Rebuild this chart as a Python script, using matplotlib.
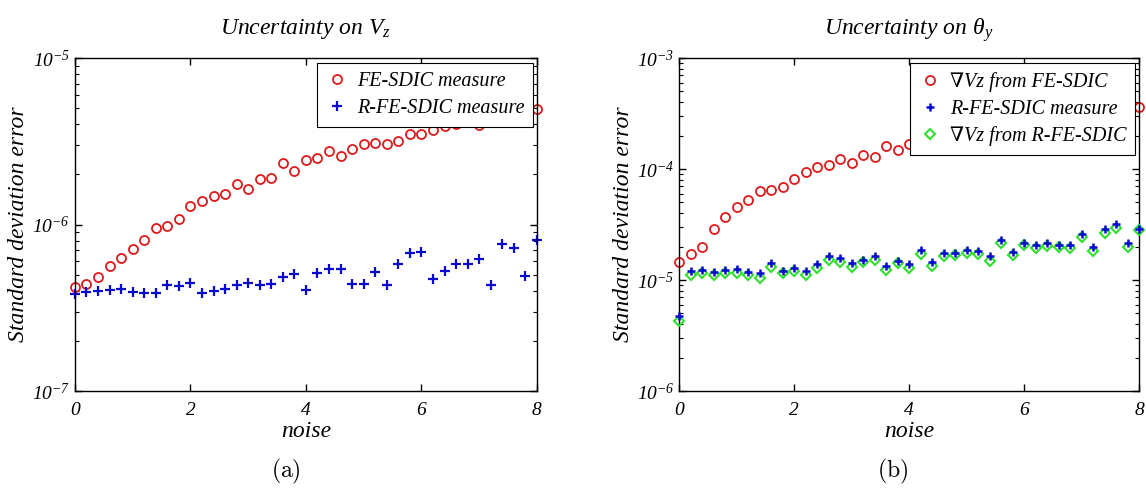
import numpy as np
import matplotlib
matplotlib.use("Agg")
from matplotlib import pyplot as plt
from matplotlib.ticker import LogLocator, NullFormatter, FixedLocator

plt.rcParams['font.family'] = ['Liberation Serif', 'DejaVu Serif']
plt.rcParams['font.style'] = 'italic'
plt.rcParams['mathtext.fontset'] = 'custom'
plt.rcParams['mathtext.rm'] = 'Liberation Serif:italic'
plt.rcParams['mathtext.it'] = 'Liberation Serif:italic'
plt.rcParams['mathtext.sf'] = 'Liberation Serif'  # upright slot, used for theta
plt.rcParams['mathtext.default'] = 'it'

noise = np.round(np.arange(0, 8.01, 0.2), 1)

# panel (a): uncertainty on Vz
vz_fe = [4.22e-7, 4.37e-7, 4.81e-7, 5.62e-7, 6.31e-7, 7.12e-7, 8.07e-7, 9.57e-7, 9.84e-7, 1.08e-6,
         1.30e-6, 1.38e-6, 1.49e-6, 1.53e-6, 1.75e-6, 1.64e-6, 1.87e-6, 1.89e-6, 2.33e-6, 2.10e-6,
         2.45e-6, 2.51e-6, 2.78e-6, 2.59e-6, 2.85e-6, 3.06e-6, 3.10e-6, 3.03e-6, 3.18e-6, 3.52e-6,
         3.49e-6, 3.67e-6, 3.90e-6, 3.99e-6, 4.12e-6, 3.97e-6, 4.25e-6, 4.40e-6, 4.12e-6, 4.60e-6,
         4.95e-6]
vz_rfe = [3.82e-7, 3.95e-7, 4.00e-7, 4.03e-7, 4.09e-7, 3.95e-7, 3.86e-7, 3.89e-7, 4.33e-7, 4.30e-7,
          4.47e-7, 3.86e-7, 4.00e-7, 4.12e-7, 4.33e-7, 4.47e-7, 4.33e-7, 4.42e-7, 4.85e-7, 5.04e-7,
          4.03e-7, 5.13e-7, 5.37e-7, 5.37e-7, 4.42e-7, 4.37e-7, 5.20e-7, 4.33e-7, 5.78e-7, 6.70e-7,
          6.87e-7, 4.70e-7, 5.27e-7, 5.78e-7, 5.78e-7, 6.25e-7, 4.33e-7, 7.60e-7, 7.22e-7, 4.90e-7,
          8.07e-7]

# panel (b): uncertainty on theta_y
th_fe = [1.46e-5, 1.71e-5, 1.98e-5, 2.88e-5, 3.72e-5, 4.52e-5, 5.23e-5, 6.34e-5, 6.52e-5, 6.89e-5,
         8.20e-5, 9.41e-5, 1.04e-4, 1.08e-4, 1.23e-4, 1.13e-4, 1.33e-4, 1.29e-4, 1.62e-4, 1.49e-4,
         1.67e-4, 1.78e-4, 1.86e-4, 1.80e-4, 1.95e-4, 2.10e-4, 2.12e-4, 2.08e-4, 2.20e-4, 2.40e-4,
         2.38e-4, 2.50e-4, 2.62e-4, 2.70e-4, 2.80e-4, 2.72e-4, 2.90e-4, 3.00e-4, 2.85e-4, 3.10e-4,
         3.59e-4]
th_rfe = [4.74e-6, 1.21e-5, 1.23e-5, 1.19e-5, 1.23e-5, 1.25e-5, 1.19e-5, 1.15e-5, 1.41e-5, 1.21e-5,
          1.27e-5, 1.21e-5, 1.38e-5, 1.64e-5, 1.57e-5, 1.41e-5, 1.53e-5, 1.64e-5, 1.34e-5, 1.49e-5,
          1.39e-5, 1.86e-5, 1.46e-5, 1.76e-5, 1.76e-5, 1.86e-5, 1.84e-5, 1.64e-5, 2.29e-5, 1.80e-5,
          2.17e-5, 2.07e-5, 2.14e-5, 2.07e-5, 2.07e-5, 2.59e-5, 2.00e-5, 2.86e-5, 3.17e-5, 2.14e-5,
          2.90e-5]
th_grad_rfe = [4.31e-6, 1.12e-5, 1.15e-5, 1.12e-5, 1.15e-5, 1.16e-5, 1.11e-5, 1.05e-5, 1.32e-5, 1.15e-5,
               1.21e-5, 1.12e-5, 1.27e-5, 1.53e-5, 1.46e-5, 1.30e-5, 1.46e-5, 1.53e-5, 1.23e-5, 1.41e-5,
               1.27e-5, 1.71e-5, 1.34e-5, 1.64e-5, 1.68e-5, 1.76e-5, 1.71e-5, 1.49e-5, 2.14e-5, 1.68e-5,
               2.07e-5, 1.93e-5, 2.03e-5, 2.00e-5, 1.93e-5, 2.45e-5, 1.84e-5, 2.65e-5, 2.95e-5, 2.00e-5,
               2.80e-5]

red = '#dd1a1a'
blue = '#0a0ad0'
green = '#2ee02e'

fig = plt.figure(figsize=(11.46, 4.90), dpi=100)
ax1 = fig.add_axes([0.0654, 0.202, 0.4031, 0.6796])
ax2 = fig.add_axes([0.5925, 0.202, 0.4014, 0.6796])


def style_axes(ax, ylim, yticks, ylabels):
    ax.set_yscale('log')
    ax.set_xlim(0, 8)
    ax.set_ylim(*ylim)
    ax.set_xticks([0, 2, 4, 6, 8])
    ax.set_xticklabels(['0', '2', '4', '6', '8'])
    ax.yaxis.set_major_locator(FixedLocator(yticks))
    ax.set_yticklabels(ylabels)
    ax.yaxis.set_minor_locator(LogLocator(base=10, subs=np.arange(2, 10)))
    ax.yaxis.set_minor_formatter(NullFormatter())
    ax.tick_params(which='both', direction='in', top=True, right=True, labelsize=14)
    ax.tick_params(which='major', length=5, width=1.0)
    ax.tick_params(which='minor', length=3, width=0.8)
    ax.tick_params(axis='x', pad=8)
    for s in ax.spines.values():
        s.set_linewidth(1.0)
    ax.set_xlabel('noise', fontsize=17, labelpad=1)
    ax.set_ylabel('Standard deviation error', fontsize=17, labelpad=2)


def add_legend(ax):
    leg = ax.legend(loc='upper right', bbox_to_anchor=(0.992, 0.985), fontsize=14.5,
                    fancybox=False, framealpha=1, edgecolor='black',
                    handletextpad=0.5, borderpad=0.45, labelspacing=0.38,
                    handlelength=1.0, borderaxespad=0)
    leg.get_frame().set_linewidth(0.8)


# (a)
ax1.plot(noise, vz_fe, 'o', mfc='none', mec=red, ms=6.5, mew=1.3, clip_on=False,
         label='FE-SDIC measure')
ax1.plot(noise, vz_rfe, '+', color=blue, ms=7, mew=1.6, clip_on=False,
         label='R-FE-SDIC measure')
style_axes(ax1, (1e-7, 1e-5), [1e-7, 1e-6, 1e-5],
           [r'$10^{-7}$', r'$10^{-6}$', r'$10^{-5}$'])
ax1.set_title(r'Uncertainty on $V_z$', fontsize=17, pad=17)
add_legend(ax1)

# (b)
ax2.plot(noise, th_fe, 'o', mfc='none', mec=red, ms=6.5, mew=1.3, clip_on=False,
         label=r'∇Vz from FE-SDIC')
ax2.plot(noise, th_rfe, '+', color=blue, ms=6, mew=1.8, clip_on=False, zorder=4,
         label='R-FE-SDIC measure')
ax2.plot(noise, th_grad_rfe, 'D', mfc='none', mec=green, ms=5, mew=1.5, clip_on=False,
         zorder=3, label=r'∇Vz from R-FE-SDIC')
style_axes(ax2, (1e-6, 1e-3), [1e-6, 1e-5, 1e-4, 1e-3],
           [r'$10^{-6}$', r'$10^{-5}$', r'$10^{-4}$', r'$10^{-3}$'])
ax2.set_title(r'Uncertainty on $\mathsf{\theta}_y$', fontsize=17, pad=17)
add_legend(ax2)

fig.text(0.2496, 0.008, r'$\mathrm{(a)}$', math_fontfamily='cm', fontsize=17,
         ha='center', va='bottom')
fig.text(0.779, 0.008, r'$\mathrm{(b)}$', math_fontfamily='cm', fontsize=17,
         ha='center', va='bottom')

fig.savefig('out.png', dpi=100)
